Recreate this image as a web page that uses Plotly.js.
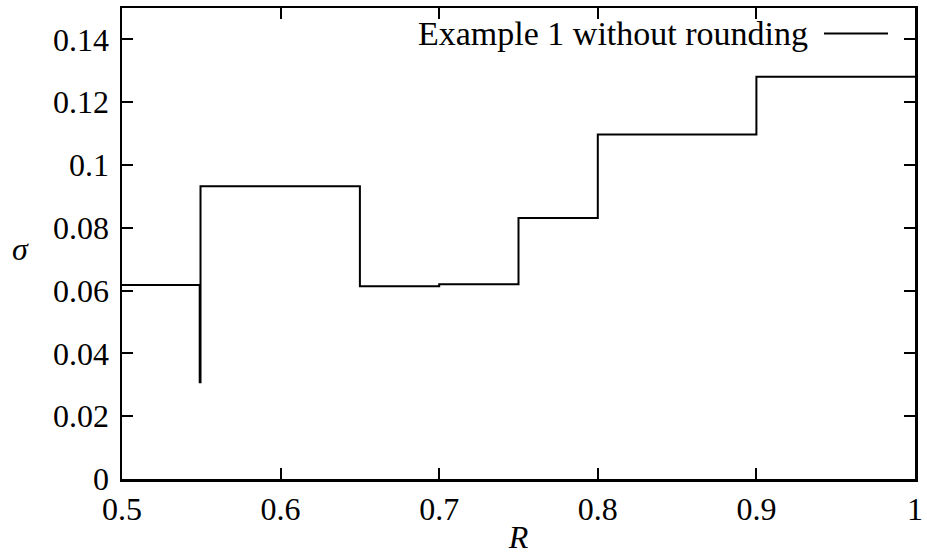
<!DOCTYPE html>
<html>
<head>
<meta charset="utf-8">
<script src="https://cdn.plot.ly/plotly-3.0.1.min.js"></script>
<style>
  html, body { margin: 0; padding: 0; background: #ffffff; }
  #chart { width: 927px; height: 560px; }
</style>
</head>
<body>
<div id="chart"></div>
<script>
// Step data (gnuplot "steps" style): R values and sigma values
var rValues = [0.5, 0.549, 0.5495, 0.65, 0.7, 0.75, 0.8, 0.9, 1.0];
var sigmaValues = [0.0618, 0.0308, 0.0932, 0.0614, 0.0620, 0.0831, 0.1097, 0.1281, 0.1281];
var seriesName = "Example 1 without rounding";

var xTickVals = [0.5, 0.6, 0.7, 0.8, 0.9, 1.0];
var xTickText = ["0.5", "0.6", "0.7", "0.8", "0.9", "1"];
var yTickVals = [0, 0.02, 0.04, 0.06, 0.08, 0.1, 0.12, 0.14];
var yTickText = ["0", "0.02", "0.04", "0.06", "0.08", "0.1", "0.12", "0.14"];

var serifFamily = "Liberation Serif";

var trace = {
  x: rValues,
  y: sigmaValues,
  type: "scatter",
  mode: "lines",
  name: seriesName,
  line: { shape: "hv", color: "#000000", width: 2 },
  showlegend: false,
  hoverinfo: "x+y"
};

function axisCommon() {
  return {
    showgrid: false,
    zeroline: false,
    showline: true,
    linecolor: "#000000",
    linewidth: 2.5,
    mirror: "allticks",
    ticks: "inside",
    ticklen: 11,
    tickwidth: 2,
    tickcolor: "#000000",
    tickfont: { family: serifFamily, size: 32, color: "#000000" }
  };
}

var xaxis = axisCommon();
xaxis.range = [0.5, 1.0];
xaxis.tickmode = "array";
xaxis.tickvals = xTickVals;
xaxis.ticktext = xTickText;
xaxis.ticklabelstandoff = 0;
xaxis.title = { text: "<i>R</i>", font: { family: serifFamily, size: 32, color: "#000000" }, standoff: 0 };

var yaxis = axisCommon();
yaxis.range = [0, 0.15];
yaxis.tickmode = "array";
yaxis.tickvals = yTickVals;
yaxis.ticktext = yTickText;
yaxis.ticklabelstandoff = 4;

var layout = {
  width: 927,
  height: 560,
  margin: { l: 122, r: 12, t: 8, b: 81 },
  paper_bgcolor: "#ffffff",
  plot_bgcolor: "#ffffff",
  showlegend: false,
  font: { family: serifFamily, size: 32, color: "#000000" },
  xaxis: xaxis,
  yaxis: yaxis,
  annotations: [
    {
      text: "<i>σ</i>",
      xref: "paper", yref: "paper",
      x: -0.128, y: 0.489,
      xanchor: "center", yanchor: "middle",
      showarrow: false,
      font: { family: serifFamily, size: 32, color: "#000000" }
    },
    {
      text: seriesName,
      xref: "paper", yref: "paper",
      x: 0.8676, y: 0.946,
      xanchor: "right", yanchor: "middle",
      showarrow: false,
      font: { family: serifFamily, size: 34, color: "#000000" }
    }
  ],
  shapes: [
    {
      type: "line",
      xref: "paper", yref: "paper",
      x0: 0.8852, x1: 0.9660, y0: 0.946, y1: 0.946,
      line: { color: "#000000", width: 2 }
    }
  ]
};

Plotly.newPlot("chart", [trace], layout, { displayModeBar: false, staticPlot: true });
</script>
</body>
</html>
